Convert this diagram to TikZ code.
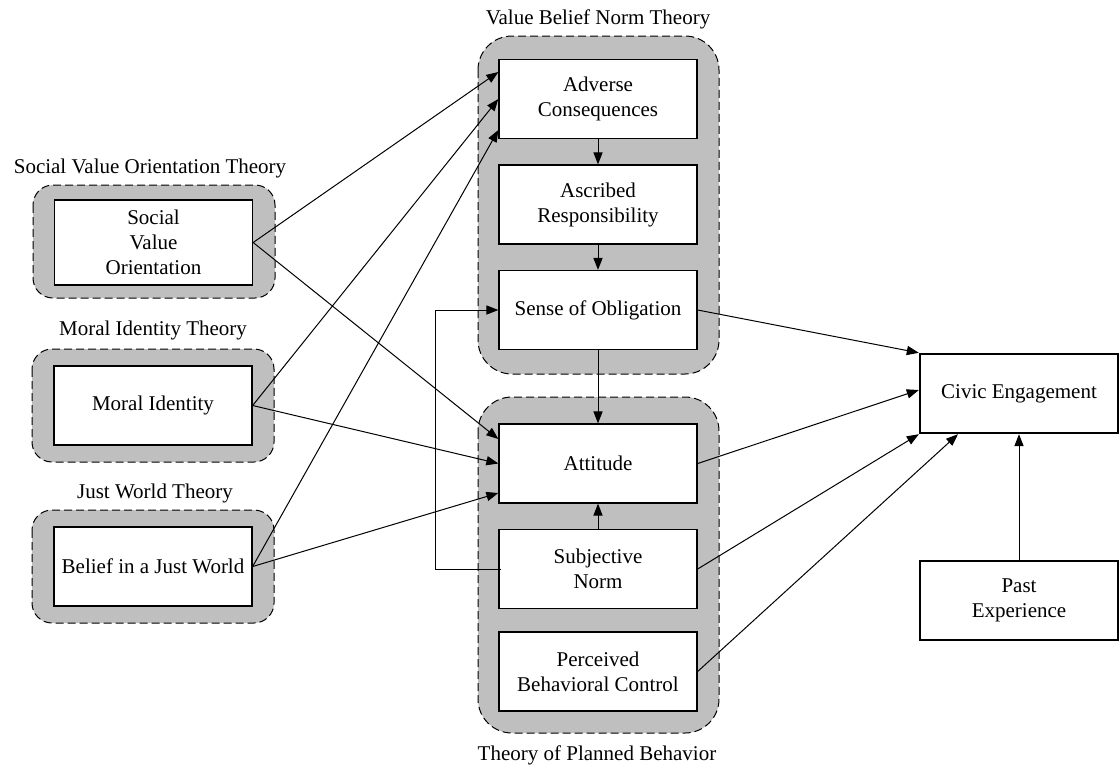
\documentclass[tikz,border=0pt]{standalone}
\usepackage{fontspec}
\setmainfont{Liberation Serif}
\usetikzlibrary{arrows.meta}

\tikzset{
  box/.style={draw, fill=white, line width=0.65pt, minimum width=99pt, minimum height=39.5pt, inner sep=1pt, align=center},
  group/.style={draw, fill=black!25, line width=0.5pt, dash pattern=on 4pt off 2pt},
}

\begin{document}
\begin{tikzpicture}[x=0.5pt, y=-0.5pt, >={Triangle[length=6pt, width=4.6pt]}, line width=0.5pt,
    font=\fontsize{10.5}{12.5}\selectfont]
            \useasboundingbox (0,0) rectangle (1119,773);
            % theory groups
            \path[group, rounded corners=10pt] (33,185) rectangle (275,298);
            \path[group, rounded corners=10pt] (32,349) rectangle (274,462);
            \path[group, rounded corners=10pt] (32,510) rectangle (274,623);
            \path[group, rounded corners=17pt] (478,36) rectangle (719,374);
            \path[group, rounded corners=17pt] (478,397) rectangle (719,733);
            \node (SVOT) at (150,168) {Social Value Orientation Theory};
            \node (MIT) at (153,330) {Moral Identity Theory};
            \node (JWT) at (155,493) {Just World Theory};
            \node (VBNT) at (598,19) {Value Belief Norm Theory};
            \node (TPBT) at (597,755) {Theory of Planned Behavior};
            % constructs
            \node[box, minimum height=42.5pt] (SVO) at (153.5,242.5) {Social\\Value\\Orientation};
            \node[box] (MI) at (153,405.5) {Moral Identity};
            \node[box] (JW) at (153,566.5) {Belief in a Just World};
            \node[box] (AC) at (598,99) {Adverse\\Consequences};
            \node[box] (AR) at (598,204.5) {Ascribed\\Responsibility};
            \node[box] (SoO) at (598,310) {Sense of Obligation};
            \node[box] (Att) at (598,463.5) {Attitude};
            \node[box] (SN) at (598,569) {Subjective\\Norm};
            \node[box] (PBC) at (598,671.5) {Perceived\\Behavioral Control};
            \node[box, line width=1.2pt] (CE) at (1019,393.5) {Civic Engagement};
            \node[box] (PE) at (1019,600.5) {Past\\Experience};
            % paths
            \path[->] (SVO.east) edge ([yshift=13.5pt]AC.west);
            \path[->] (MI.east) edge (AC.west);
            \path[->] (JW.east) edge ([yshift=-15.5pt]AC.west);
            \path[->] (SVO.east) edge ([yshift=12.25pt]Att.west);
            \path[->] (MI.east) edge (Att.west);
            \path[->] (JW.east) edge ([yshift=-14.75pt]Att.west);
            \path[->] (AC) edge (AR);
            \path[->] (AR) edge (SoO);
            \path[->] (SoO) edge (Att);
            \path[->] (SN) edge (Att);
            \draw[->] ([xshift=1.5pt]SN.west) -- ++(-66,0) |- (SoO.west);
            \path[->] (SoO.east) edge (CE.north west);
            \path[->] (Att.east) edge ([yshift=1.75pt]CE.west);
            \path[->] (SN.east) edge (CE.south west);
            \path[->] (PBC.east) edge ([xshift=-30.5pt]CE.south);
            \path[->] (PE) edge (CE);
        \end{tikzpicture}
\end{document}
